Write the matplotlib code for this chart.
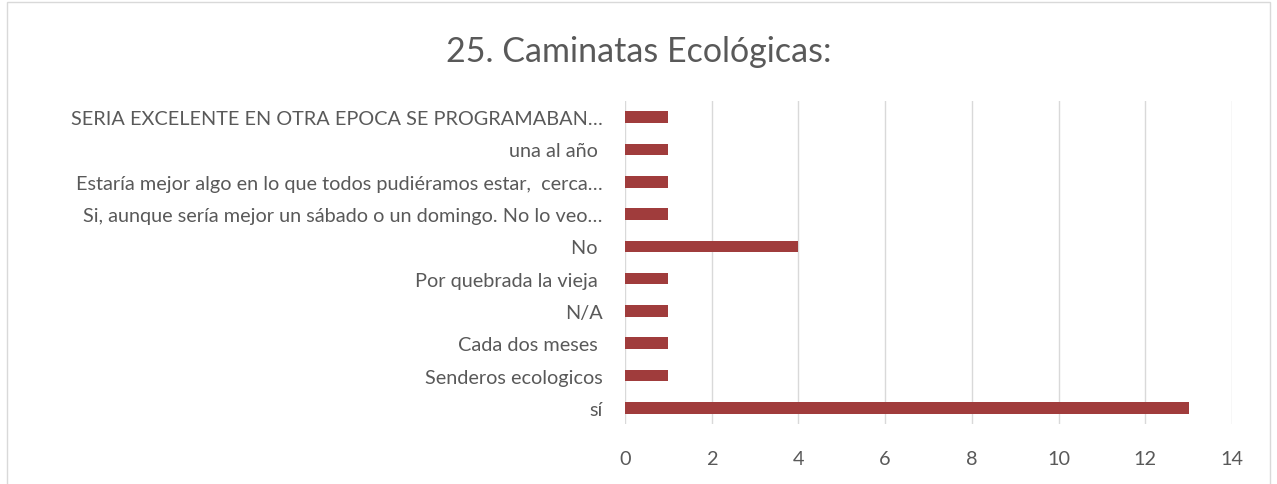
import matplotlib.pyplot as plt
from matplotlib.patches import Rectangle

# datos (de abajo hacia arriba, como en Excel)
categorias = ['sí', 'Senderos ecologicos', 'Cada dos meses ', 'N/A', 'Por quebrada la vieja ',
              'No ', 'Si, aunque sería mejor un sábado o un domingo. No lo veo…',
              'Estaría mejor algo en lo que todos pudiéramos estar,  cerca…',
              'una al año ', 'SERIA EXCELENTE EN OTRA EPOCA SE PROGRAMABAN…']
valores = [13, 1, 1, 1, 1, 4, 1, 1, 1, 1]
ticks_x = [0, 2, 4, 6, 8, 10, 12, 14]

gris = '#595959'
plt.rcParams['font.family'] = ['Lato', 'DejaVu Sans']

fig = plt.figure(figsize=(12.77, 4.85), dpi=100)
ax = fig.add_axes([0.4894, 0.1237, 0.4754, 0.666])

ax.barh(range(len(categorias)), valores, height=0.36, color='#A03C3C')
ax.set_xlim(0, 14)
ax.set_ylim(-0.5, len(categorias) - 0.5)
ax.set_xticks(ticks_x)
ax.set_yticks(range(len(categorias)))
ax.set_yticklabels(categorias)

ax.grid(axis='x', color='#D9D9D9', linewidth=1)
ax.set_axisbelow(True)
for s in ax.spines.values():
    s.set_visible(False)
ax.tick_params(axis='both', length=0, colors=gris, labelsize=14.3)
ax.tick_params(axis='y', pad=16)
ax.tick_params(axis='x', pad=19)

fig.text(0.5, 0.893, '25. Caminatas Ecológicas:', ha='center', va='center',
         fontsize=24.5, color=gris)

# marco del gráfico
fig.patches.append(Rectangle((0.0055, -0.01), 0.989, 1.004, transform=fig.transFigure,
                             fill=False, edgecolor='#D9D9D9', linewidth=1))

fig.savefig('out.png', dpi=100)
